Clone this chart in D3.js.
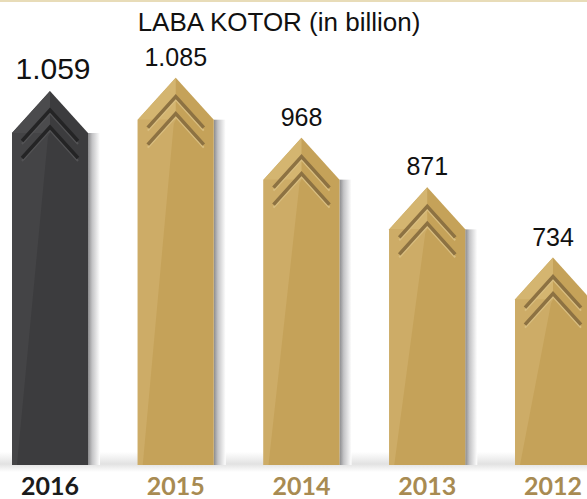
<!DOCTYPE html>
<html>
<head>
<meta charset="utf-8">
<script src="https://cdn.jsdelivr.net/npm/d3@7"></script>
<style>
    body { margin: 0; background: #fff; }
    svg { display: block; }
</style>
</head>
<body>
<div id="chart"></div>
<script>
// laba kotor per tahun (dalam miliar)
var years = ["2016", "2015", "2014", "2013", "2012"];
var labaKotor = [1059, 1085, 968, 871, 734];
var titleText = "LABA KOTOR (in billion)";

var width = 587,
    height = 499;

var baseY = 465,
    headH = 42,
    halfW = 38;

var idLocale = d3.formatLocale({ decimal: ",", thousands: ".", grouping: [3], currency: ["Rp", ""] });
var fmt = idLocale.format(",");

var palette = {
    gold: { main: "#c5a259", strip: "#cdac67", head: "#d4b570", chev: "#8d7242", hi: "#d9be80" },
    dark: { main: "#3c3c3e", strip: "#444446", head: "#4b4b4d", chev: "#242425", hi: "#535355" }
};

var x = d3.scalePoint().domain(years).range([50, 553]);
var y = d3.scaleLinear().domain([700, 1100]).range([275, 70]);

var svg = d3.select("#chart")
    .append("svg")
    .attr("width", width)
    .attr("height", height);

var defs = svg.append("defs");

var sg = defs.append("linearGradient")
    .attr("id", "shadow-grad")
    .attr("x1", 0).attr("y1", 0)
    .attr("x2", 1).attr("y2", 0);
sg.append("stop").attr("offset", "0%").attr("stop-color", "#8a8a8c");
sg.append("stop").attr("offset", "35%").attr("stop-color", "#c4c4c6");
sg.append("stop").attr("offset", "100%").attr("stop-color", "#ffffff");

var fg = defs.append("linearGradient")
    .attr("id", "floor-grad")
    .attr("x1", 0).attr("y1", 0)
    .attr("x2", 0).attr("y2", 1);
fg.append("stop").attr("offset", "0%").attr("stop-color", "#ffffff");
fg.append("stop").attr("offset", "60%").attr("stop-color", "#e2e2e2");
fg.append("stop").attr("offset", "100%").attr("stop-color", "#ffffff");

// thin line on top
svg.append("rect")
    .attr("x", 0).attr("y", 0)
    .attr("width", width).attr("height", 2)
    .attr("fill", "#e8dcb8");

svg.append("text")
    .attr("x", 279)
    .attr("y", 31)
    .attr("text-anchor", "middle")
    .style("font-family", "'Liberation Sans', Arial, sans-serif")
    .style("font-size", "26px")
    .style("fill", "#111")
    .text(titleText);

// floor shadow
svg.append("rect")
    .attr("x", 0).attr("y", 452)
    .attr("width", width).attr("height", 20)
    .attr("fill", "url(#floor-grad)");

var data = years.map(function (yr, i) {
    return { year: yr, value: labaKotor[i], current: i === 0 };
});

var bars = svg.selectAll(".bar")
    .data(data)
    .enter().append("g")
    .attr("class", "bar")
    .attr("transform", function (d) {
        return "translate(" + x(d.year) + ",0)";
    });

function pts(arr) {
    return arr.map(function (p) { return p.join(","); }).join(" ");
}

bars.each(function (d) {
    var g = d3.select(this);
    var top = y(d.value),
        sh = top + headH,
        c = d.current ? palette.dark : palette.gold;

    g.append("rect")
        .attr("x", halfW)
        .attr("y", sh)
        .attr("width", 12)
        .attr("height", baseY - sh)
        .attr("fill", "url(#shadow-grad)");

    g.append("polygon")
        .attr("points", pts([[0, top], [halfW, sh], [halfW, baseY], [-halfW, baseY], [-halfW, sh]]))
        .attr("fill", c.main);

    // left strip down the body
    g.append("polygon")
        .attr("points", pts([[-halfW, sh], [-halfW, baseY], [-halfW + 5, baseY], [-2, sh + 4], [0, sh]]))
        .attr("fill", c.strip);

    // lighter left half of the head
    g.append("polygon")
        .attr("points", pts([[0, top], [-halfW, sh], [0, sh]]))
        .attr("fill", c.head);

    [19, 36].forEach(function (k) {
        g.append("polyline")
            .attr("points", pts([[-28, top + k + 34], [0, top + k + 3], [28, top + k + 34]]))
            .attr("fill", "none")
            .attr("stroke", c.hi)
            .attr("stroke-width", 2);
        g.append("polyline")
            .attr("points", pts([[-28, top + k + 31], [0, top + k], [28, top + k + 31]]))
            .attr("fill", "none")
            .attr("stroke", c.chev)
            .attr("stroke-width", 3.5);
    });

    g.append("text")
        .attr("x", d.current ? 3 : 0)
        .attr("y", top - 12)
        .attr("text-anchor", "middle")
        .style("font-family", "'Liberation Sans', Arial, sans-serif")
        .style("font-size", d.current ? "30px" : "25px")
        .style("fill", "#111")
        .text(fmt(d.value));

    g.append("text")
        .attr("x", 0)
        .attr("y", 495)
        .attr("text-anchor", "middle")
        .style("font-family", "Lato, 'Open Sans', sans-serif")
        .style("font-weight", "bold")
        .style("font-size", "25px")
        .style("fill", d.current ? "#1b1b1b" : "#a88b52")
        .text(d.year);
});
</script>
</body>
</html>
